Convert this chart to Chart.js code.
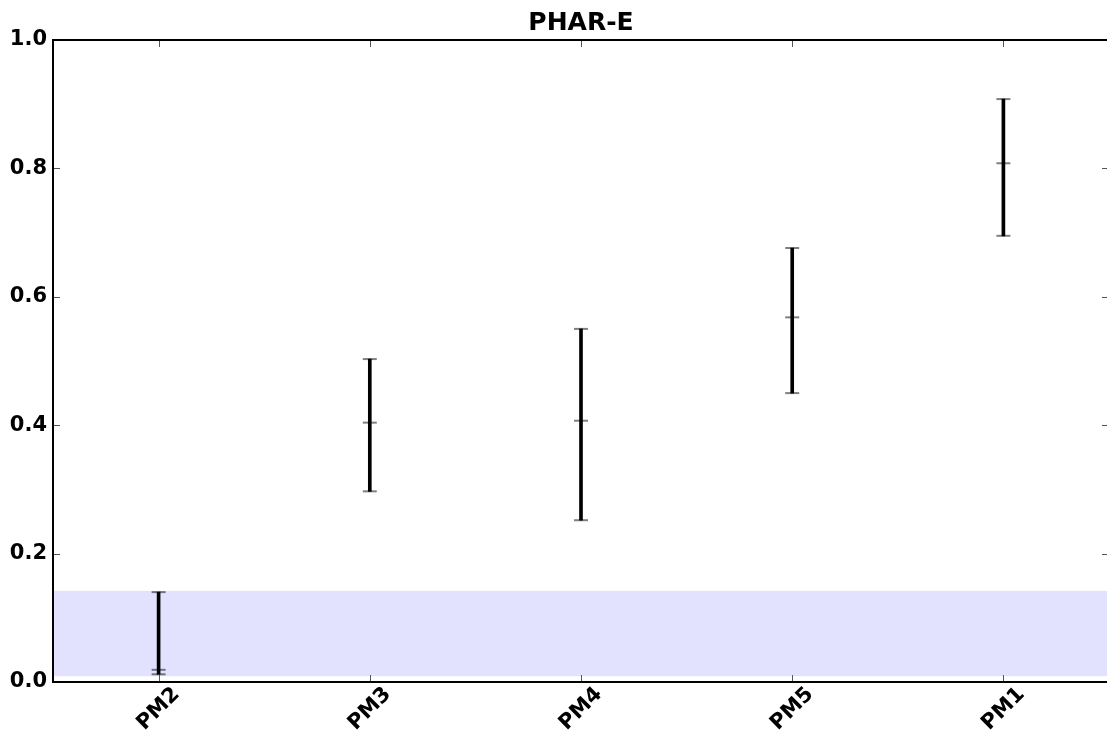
<!DOCTYPE html>
<html>
<head>
<meta charset="utf-8">
<script src="https://cdn.jsdelivr.net/npm/chart.js@4"></script>
<style>
  html, body { margin: 0; padding: 0; overflow: hidden; background: #fff; }
  #wrap { width: 1118px; height: 733px; position: relative; }
</style>
</head>
<body>
<div id="wrap"><canvas id="c" width="1118" height="733"></canvas></div>
<script>
// Scores per model: mean with lower / upper interval bounds
const categories = ['PM2', 'PM3', 'PM4', 'PM5', 'PM1'];
const means = [0.019, 0.404, 0.407, 0.568, 0.808];
const lows  = [0.012, 0.297, 0.252, 0.450, 0.695];
const highs = [0.140, 0.503, 0.550, 0.676, 0.908];

// Shaded reference band (lower, upper)
const bandRange = [0.009, 0.142];

const yTickValues = [0.0, 0.2, 0.4, 0.6, 0.8, 1.0];
const titleText = 'PHAR-E';

const FONT = '"DejaVu Sans", sans-serif';
const capColor = 'rgba(0,0,0,0.5)';

const framePlugin = {
  id: 'frame',
  beforeDatasetsDraw(chart) {
    const { ctx, chartArea: a, scales: { y } } = chart;
    const yTop = y.getPixelForValue(bandRange[1]);
    const yBot = y.getPixelForValue(bandRange[0]);
    ctx.save();
    ctx.fillStyle = 'rgba(0,0,255,0.115)';
    ctx.fillRect(a.left, yTop, a.right - a.left, yBot - yTop);
    ctx.restore();
  },
  afterDatasetsDraw(chart) {
    const { ctx, chartArea: a, scales: { x, y } } = chart;
    ctx.save();
    // inward tick marks
    ctx.strokeStyle = '#555';
    ctx.lineWidth = 1;
    ctx.beginPath();
    yTickValues.forEach(v => {
      const py = Math.round(y.getPixelForValue(v)) + 0.5;
      ctx.moveTo(a.left, py); ctx.lineTo(a.left + 7, py);
      ctx.moveTo(a.right - 7, py); ctx.lineTo(a.right, py);
    });
    categories.forEach((c, i) => {
      const px = Math.round(x.getPixelForValue(i)) + 0.5;
      ctx.moveTo(px, a.top); ctx.lineTo(px, a.top + 7);
      ctx.moveTo(px, a.bottom - 7); ctx.lineTo(px, a.bottom);
    });
    ctx.stroke();
    // axes frame
    ctx.strokeStyle = '#000';
    ctx.lineWidth = 2;
    ctx.strokeRect(a.left, a.top, a.right - a.left, a.bottom - a.top);
    ctx.restore();
  },
  afterDraw(chart) {
    const { ctx, chartArea: a, scales: { x } } = chart;
    ctx.save();
    ctx.fillStyle = '#000';
    ctx.font = 'bold 21px ' + FONT;
    ctx.textAlign = 'center';
    ctx.textBaseline = 'middle';
    categories.forEach((c, i) => {
      const px = x.getPixelForValue(i);
      ctx.save();
      ctx.translate(px, a.bottom + 27);
      ctx.rotate(-Math.PI / 4);
      ctx.fillText(c, 0, 0);
      ctx.restore();
    });
    ctx.restore();
  }
};

const markerSet = (values) => ({
  type: 'line',
  data: values,
  showLine: false,
  pointStyle: 'line',
  pointRadius: 7,
  pointBorderColor: capColor,
  pointBackgroundColor: capColor,
  pointBorderWidth: 2,
  pointHoverRadius: 7,
  order: 2
});

new Chart(document.getElementById('c'), {
  type: 'bar',
  data: {
    labels: categories,
    datasets: [
      {
        type: 'bar',
        data: categories.map((c, i) => [lows[i], highs[i]]),
        backgroundColor: '#000',
        borderWidth: 0,
        barThickness: 3,
        order: 1
      },
      markerSet(means),
      markerSet(lows),
      markerSet(highs)
    ]
  },
  options: {
    responsive: false,
    animation: false,
    layout: { padding: 0 },
    plugins: {
      legend: { display: false },
      tooltip: { enabled: false },
      title: {
        display: true,
        fullSize: false,
        text: titleText,
        color: '#000',
        font: { family: FONT, size: 25, weight: 'bold', lineHeight: 1.2 },
        padding: { top: 8, bottom: 2 }
      }
    },
    scales: {
      x: {
        type: 'category',
        offset: true,
        grid: { display: false, drawTicks: false },
        border: { display: false },
        ticks: { display: false },
        afterFit(s) { s.height = 51; }
      },
      y: {
        min: 0,
        max: 1,
        afterBuildTicks(s) { s.ticks = yTickValues.map(v => ({ value: v })); },
        grid: { display: false, drawTicks: false },
        border: { display: false },
        ticks: {
          color: '#000',
          padding: 6,
          font: { family: FONT, size: 21, weight: 'bold' },
          callback: v => Number(v).toFixed(1)
        },
        afterFit(s) { s.width = 53; }
      }
    }
  },
  plugins: [framePlugin]
});
</script>
</body>
</html>
